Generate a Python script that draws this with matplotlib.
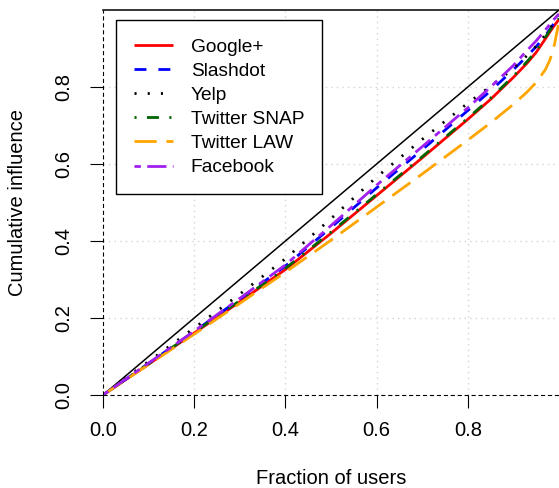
import matplotlib
matplotlib.use("Agg")
import matplotlib.pyplot as plt
import numpy as np

plt.rcParams['font.family'] = ['Liberation Sans', 'DejaVu Sans']
plt.rcParams['lines.scale_dashes'] = False

# fraction of users (x) and cumulative influence for each network
frac = [0, 0.1, 0.2, 0.3, 0.4, 0.5, 0.6, 0.7, 0.8, 0.85, 0.9, 0.93, 0.95, 0.97, 0.98, 0.99, 1.0]
google = [0, 0.080, 0.161, 0.242, 0.326, 0.420, 0.518, 0.616, 0.716, 0.768, 0.825, 0.862, 0.890, 0.925, 0.943, 0.960, 0.976]
slashdot = [0, 0.082, 0.165, 0.249, 0.335, 0.435, 0.538, 0.637, 0.739, 0.790, 0.845, 0.880, 0.905, 0.933, 0.950, 0.967, 0.985]
yelp = [0, 0.087, 0.174, 0.262, 0.354, 0.458, 0.566, 0.664, 0.758, 0.802, 0.848, 0.882, 0.906, 0.935, 0.952, 0.968, 0.985]
snap = [0, 0.081, 0.163, 0.245, 0.329, 0.423, 0.521, 0.619, 0.719, 0.771, 0.828, 0.866, 0.894, 0.929, 0.947, 0.963, 0.978]
law = [0, 0.079, 0.158, 0.238, 0.319, 0.402, 0.488, 0.574, 0.662, 0.707, 0.755, 0.787, 0.812, 0.845, 0.870, 0.910, 0.970]
facebook = [0, 0.083, 0.166, 0.251, 0.338, 0.440, 0.545, 0.645, 0.746, 0.800, 0.856, 0.895, 0.920, 0.948, 0.963, 0.977, 0.990]

names = ['Google+', 'Slashdot', 'Yelp', 'Twitter SNAP', 'Twitter LAW', 'Facebook']
series = [google, slashdot, yelp, snap, law, facebook]
colors = ['red', 'blue', 'black', 'darkgreen', 'orange', '#a020f0']
styles = ['-', (0, (8.6, 8.6)), (0, (1.5, 8)), (0, (1.5, 7.5, 8.6, 7.5)),
          (0, (16, 7)), (0, (4.6, 4.6, 13.8, 4.6))]

ticks = [0.0, 0.2, 0.4, 0.6, 0.8]
tick_labels = ['0.0', '0.2', '0.4', '0.6', '0.8']

fig = plt.figure(figsize=(5.59, 4.88), dpi=100)
ax = fig.add_axes([103 / 559, 93 / 488, 456 / 559, 385 / 488])
ax.set_xlim(0, 1)
ax.set_ylim(0, 1)

# light dotted grid
for t in ticks[1:]:
    ax.axvline(t, color='lightgray', lw=1, ls=(0, (1, 3)), zorder=0)
    ax.axhline(t, color='lightgray', lw=1, ls=(0, (1, 3)), zorder=0)

ax.plot([0, 1], [0, 1], color='black', lw=1.1, zorder=2)
for name, ys, c, s in zip(names, series, colors, styles):
    ax.plot(frac, ys, color=c, ls=s, lw=2, label=name, solid_capstyle='butt',
            dash_capstyle='butt', zorder=3)

ax.axvline(0, color='black', lw=0.8, ls=(0, (3, 2)), zorder=4, clip_on=False)
ax.axhline(0, color='black', lw=0.8, ls=(0, (3, 2)), zorder=4, clip_on=False)

for side in ['left', 'bottom', 'right']:
    ax.spines[side].set_visible(False)
ax.spines['top'].set_linewidth(1.1)

ax.set_xticks(ticks)
ax.set_xticklabels(tick_labels, fontsize=14.5)
ax.set_yticks(ticks)
ax.set_yticklabels(tick_labels, fontsize=14.5, rotation=90, va='center')
ax.tick_params(axis='both', length=9.5, width=0.8, color='black')
ax.tick_params(axis='x', pad=9)
ax.tick_params(axis='y', pad=12)

fig.text(331 / 559, 1 - 479 / 488, 'Fraction of users', fontsize=14.5,
         ha='center', va='center')
fig.text(18 / 559, 1 - 202 / 488, 'Cumulative influence', fontsize=14.5,
         ha='center', va='center', rotation=90)

leg = ax.legend(loc='upper left', bbox_to_anchor=(13 / 456, 375 / 385),
                borderaxespad=0, fontsize=13.8, frameon=True, fancybox=False,
                edgecolor='black', handlelength=2.0, handletextpad=0.95,
                borderpad=0.95, labelspacing=0.35)
leg.get_frame().set_linewidth(1.0)
leg.get_frame().set_alpha(None)
leg.get_frame().set_facecolor('white')

fig.savefig('out.png', dpi=100)
